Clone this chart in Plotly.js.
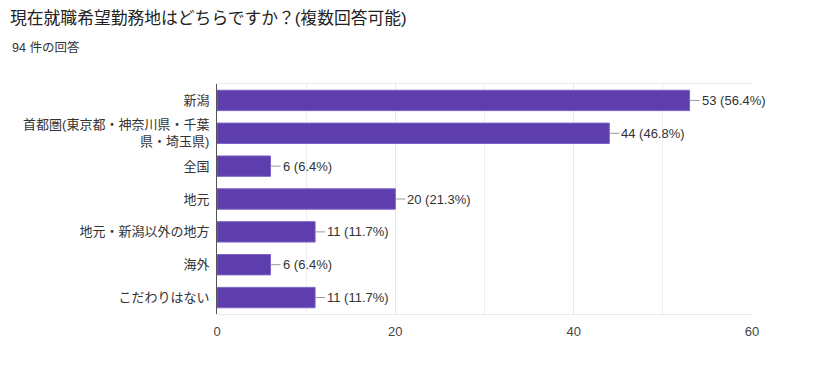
<!DOCTYPE html>
<html>
<head>
<meta charset="utf-8">
<script src="https://cdn.plot.ly/plotly-3.0.1.min.js"></script>
<style>html,body{margin:0;padding:0;background:#fff;}#chart{width:820px;height:365px;}</style>
</head>
<body>
<div id="chart"></div>
<script>
var categories = ["新潟", "首都圏(東京都・神奈川県・千葉<br>県・埼玉県)", "全国", "地元", "地元・新潟以外の地方", "海外", "こだわりはない"];
var counts = [53, 44, 6, 20, 11, 6, 11];
var percents = ["56.4%", "46.8%", "6.4%", "21.3%", "11.7%", "6.4%", "11.7%"];
var tickVals = [0, 20, 40, 60];

var font = "'Liberation Sans', Arial, 'Noto Sans CJK JP', sans-serif";

var trace = {
  type: 'bar',
  orientation: 'h',
  x: counts,
  y: categories,
  marker: {color: '#5e3dad', line: {color: '#7d62c6', width: 1}},
  width: 0.62,
  hoverinfo: 'none'
};

var annotations = counts.map(function(v, i) {
  return {
    x: v, y: categories[i], xref: 'x', yref: 'y',
    text: v + ' (' + percents[i] + ')',
    showarrow: true, arrowhead: 0, arrowwidth: 1, arrowcolor: '#999',
    ax: 10, ay: 0, xanchor: 'left', standoff: 0, startstandoff: 0,
    font: {family: font, size: 13, color: '#333'}
  };
});
annotations.push({
  xref: 'paper', yref: 'paper', x: (10 - 217) / 535, y: 1 + 37 / 230, xanchor: 'left', yanchor: 'middle',
  text: '94 件の回答', showarrow: false,
  font: {family: font, size: 12.5, color: '#333'}
});

var layout = {
  width: 820, height: 365,
  margin: {l: 217, r: 68, t: 84, b: 51},
  paper_bgcolor: '#fff', plot_bgcolor: '#fff',
  title: {text: '現在就職希望勤務地はどちらですか？(複数回答可能)', x: 10 / 820, xanchor: 'left', y: 1 - 18 / 365, yanchor: 'middle',
          font: {family: font, size: 16.8, color: '#222'}},
  showlegend: false,
  xaxis: {
    range: [0, 60], tickvals: tickVals, ticktext: tickVals.map(String),
    showgrid: true, gridcolor: '#e8e8e8', gridwidth: 1,
    minor: {dtick: 10, showgrid: true, gridcolor: '#eeeeee', gridwidth: 1},
    zeroline: false, showline: true, mirror: true, linecolor: '#eaeaea', linewidth: 1,
    ticks: '', ticklen: 0, ticklabelstandoff: 5,
    tickfont: {family: font, size: 13, color: '#444'}, fixedrange: true
  },
  yaxis: {
    autorange: 'reversed', showgrid: false, zeroline: false,
    showline: true, linecolor: '#555', linewidth: 1,
    ticks: '', ticklabelstandoff: 4,
    tickfont: {family: font, size: 13, color: '#333'}, fixedrange: true
  },
  annotations: annotations
};

Plotly.newPlot('chart', [trace], layout, {displayModeBar: false, staticPlot: true});
</script>
</body>
</html>
